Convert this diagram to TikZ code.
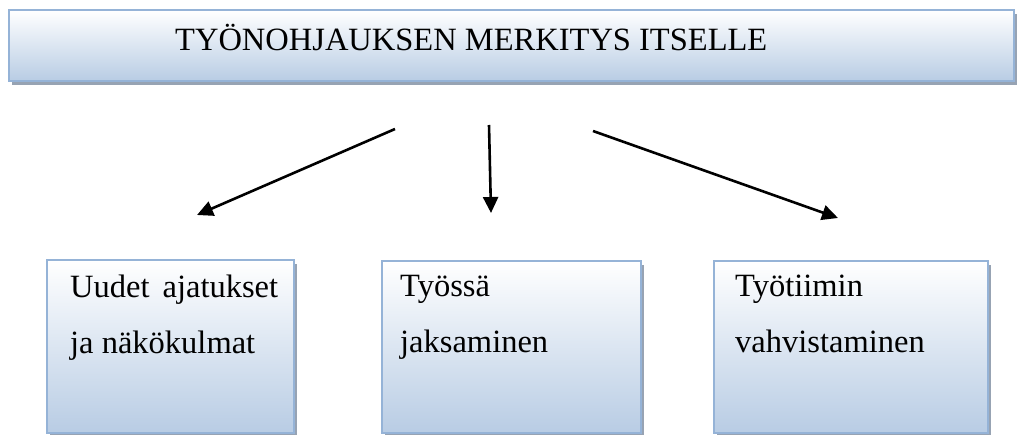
\documentclass[tikz,border=0pt]{standalone}
\usepackage{fontspec}
\setmainfont{Liberation Serif}
\usetikzlibrary{arrows.meta, shadows, positioning}

\definecolor{boxline}{HTML}{95B3D7}
\definecolor{boxfoot}{HTML}{B8CCE4}
\definecolor{boxshade}{HTML}{97A3B3}

\begin{document}
\begin{tikzpicture}[
    x=1pt, y=-1pt,
    % ── Node Styles ──
    shadebox/.style={
        rectangle, draw=boxline, line width=2.4pt,
        top color=white, bottom color=boxfoot,
        drop shadow={shadow xshift=3pt, shadow yshift=-4pt,
                     fill=boxshade, opacity=1},
        anchor=north west, inner sep=0pt
    },
    boxtext/.style={
        anchor=north west, inner sep=0pt, align=left,
        font=\fontsize{32.5}{56}\selectfont
    },
    arrow/.style={-{Triangle[length=16pt, width=15pt]}, line width=2.6pt, draw=black},
]

\useasboundingbox (0,0) rectangle (1017,435);

% ════════════════════════════════════════════════════════
%  HEADER
% ════════════════════════════════════════════════════════

\node (head) [shadebox, minimum width=1005pt, minimum height=71pt] at (8,9) {};
\node (headtext) [boxtext, anchor=base west] at (175,51)
    {TYÖNOHJAUKSEN MERKITYS ITSELLE};

% ════════════════════════════════════════════════════════
%  BOXES
% ════════════════════════════════════════════════════════

\node (b1) [shadebox, minimum width=247pt, minimum height=173pt] at (46,259) {};
\node (b2) [shadebox, minimum width=259pt, minimum height=172pt] at (381,260) {};
\node (b3) [shadebox, minimum width=274pt, minimum height=172pt] at (713,260) {};

\node (t1) [boxtext] at ([shift={(24,16)}]b1.north west)
    {Uudet\hspace{13pt}ajatukset\\ja näkökulmat};
\node (t2) [boxtext] at ([shift={(19,15)}]b2.north west)
    {Työssä\\jaksaminen};
\node (t3) [boxtext] at ([shift={(22,15)}]b3.north west)
    {Työtiimin\\vahvistaminen};

% ════════════════════════════════════════════════════════
%  ARROWS
% ════════════════════════════════════════════════════════

\coordinate (l1) at (395,129);
\coordinate (l2) at (197,215);
\coordinate (m1) at (489,125);
\coordinate (m2) at (491,213);
\coordinate (r1) at (593,131);
\coordinate (r2) at (838,218);

\draw [arrow] (l1) -- (l2);
\draw [arrow] (m1) -- (m2);
\draw [arrow] (r1) -- (r2);

\end{tikzpicture}
\end{document}
